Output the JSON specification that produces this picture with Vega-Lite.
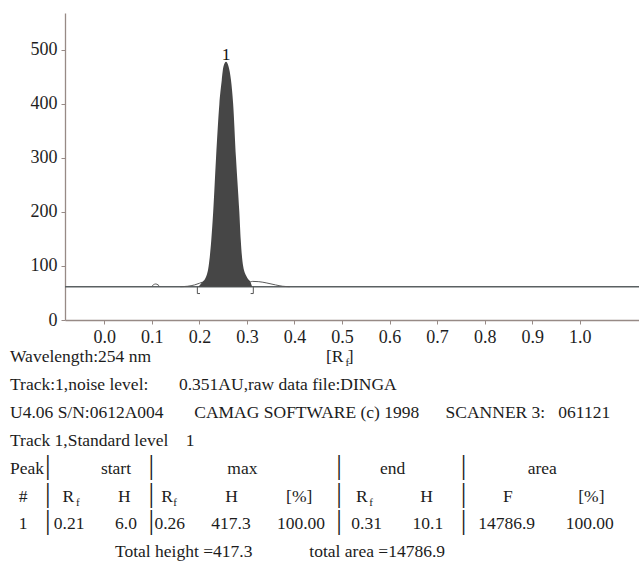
{
  "$schema": "https://vega.github.io/schema/vega-lite/v6.json",
  "padding": {"left": 10, "top": 13, "right": 0, "bottom": 0},
  "background": "white",
  "config": {
    "view": {"stroke": null},
    "font": "Liberation Serif",
    "axis": {"grid": false, "domainColor": "#978a86", "domainWidth": 1.3, "tickColor": "#978a86", "tickSize": 4, "labelPadding": 4,
      "labelFont": "Liberation Serif", "labelFontSize": 18, "labelColor": "#1e1e1e", "labelFlush": false, "labelOverlap": false}
  },
  "datasets": {
    "profile": [
      {"rf": 0.198, "h": 61.7}, {"rf": 0.205, "h": 69}, {"rf": 0.214, "h": 80},
      {"rf": 0.2195, "h": 100}, {"rf": 0.225, "h": 148}, {"rf": 0.229, "h": 200},
      {"rf": 0.235, "h": 300}, {"rf": 0.242, "h": 400}, {"rf": 0.247, "h": 444},
      {"rf": 0.2505, "h": 469}, {"rf": 0.256, "h": 478}, {"rf": 0.2615, "h": 469},
      {"rf": 0.2665, "h": 444}, {"rf": 0.271, "h": 400}, {"rf": 0.277, "h": 300},
      {"rf": 0.284, "h": 200}, {"rf": 0.287, "h": 148}, {"rf": 0.292, "h": 100},
      {"rf": 0.2995, "h": 80}, {"rf": 0.308, "h": 69}, {"rf": 0.311, "h": 61.7}
    ],
    "signal": [
      {"seg": "a", "rf": 0.099, "h": 61.7}, {"seg": "a", "rf": 0.103, "h": 65}, {"seg": "a", "rf": 0.108, "h": 66.7}, {"seg": "a", "rf": 0.113, "h": 65}, {"seg": "a", "rf": 0.117, "h": 61.7},
      {"seg": "b", "rf": 0.16, "h": 61.7}, {"seg": "b", "rf": 0.175, "h": 62.5}, {"seg": "b", "rf": 0.19, "h": 65}, {"seg": "b", "rf": 0.2, "h": 68}, {"seg": "b", "rf": 0.206, "h": 70},
      {"seg": "c", "rf": 0.306, "h": 70}, {"seg": "c", "rf": 0.312, "h": 71.5}, {"seg": "c", "rf": 0.325, "h": 71}, {"seg": "c", "rf": 0.342, "h": 68.5}, {"seg": "c", "rf": 0.36, "h": 65}, {"seg": "c", "rf": 0.375, "h": 62.5}, {"seg": "c", "rf": 0.39, "h": 61.7}
    ],
    "baseline": [{"h": 61.7}],
    "cuts": [
      {"rf": 0.1957, "hook": 0.2013, "top": 61.7, "bottom": 49},
      {"rf": 0.3134, "hook": 0.3078, "top": 61.7, "bottom": 49}
    ],
    "peaks": [{"rf": 0.256, "h": 478, "label": "1"}],
    "report": [
      {"line": 0, "text": "Wavelength:254 nm\u00a0\u00a0\u00a0\u00a0\u00a0\u00a0\u00a0\u00a0\u00a0\u00a0\u00a0\u00a0\u00a0\u00a0\u00a0\u00a0\u00a0\u00a0\u00a0\u00a0\u00a0\u00a0\u00a0\u00a0\u00a0\u00a0\u00a0\u00a0\u00a0\u00a0\u00a0\u00a0\u00a0\u00a0\u00a0\u00a0\u00a0\u00a0\u00a0\u00a0[R\u00a0]"},
      {"line": 1, "text": "Track:1,noise level:\u00a0\u00a0\u00a0\u00a0\u00a0\u00a0\u00a00.351AU,raw data file:DINGA"},
      {"line": 2, "text": "U4.06 S/N:0612A004\u00a0\u00a0\u00a0\u00a0\u00a0\u00a0\u00a0CAMAG SOFTWARE (c) 1998\u00a0\u00a0\u00a0\u00a0\u00a0\u00a0SCANNER 3:\u00a0\u00a0\u00a0061121"},
      {"line": 3, "text": "Track 1,Standard level\u00a0\u00a0\u00a0\u00a01"},
      {"line": 4, "text": "Peak\u00a0\u00a0\u00a0\u00a0\u00a0\u00a0\u00a0\u00a0\u00a0\u00a0\u00a0\u00a0\u00a0start\u00a0\u00a0\u00a0\u00a0\u00a0\u00a0\u00a0\u00a0\u00a0\u00a0\u00a0\u00a0\u00a0\u00a0\u00a0\u00a0\u00a0\u00a0\u00a0\u00a0\u00a0\u00a0max\u00a0\u00a0\u00a0\u00a0\u00a0\u00a0\u00a0\u00a0\u00a0\u00a0\u00a0\u00a0\u00a0\u00a0\u00a0\u00a0\u00a0\u00a0\u00a0\u00a0\u00a0\u00a0\u00a0\u00a0\u00a0\u00a0\u00a0\u00a0end\u00a0\u00a0\u00a0\u00a0\u00a0\u00a0\u00a0\u00a0\u00a0\u00a0\u00a0\u00a0\u00a0\u00a0\u00a0\u00a0\u00a0\u00a0\u00a0\u00a0\u00a0\u00a0\u00a0\u00a0\u00a0\u00a0\u00a0\u00a0area"},
      {"line": 5, "text": "\u200b\u00a0\u00a0#\u00a0\u00a0\u00a0\u00a0\u00a0\u00a0\u00a0\u00a0R\u00a0\u00a0\u00a0\u00a0\u00a0\u00a0\u00a0\u00a0\u00a0\u00a0H\u00a0\u00a0\u00a0\u00a0\u00a0\u00a0\u00a0R\u00a0\u00a0\u00a0\u00a0\u00a0\u00a0\u00a0\u00a0\u00a0\u00a0\u00a0\u00a0H\u00a0\u00a0\u00a0\u00a0\u00a0\u00a0\u00a0\u00a0\u00a0\u00a0\u00a0[%]\u00a0\u00a0\u00a0\u00a0\u00a0\u00a0\u00a0\u00a0\u00a0\u00a0R\u00a0\u00a0\u00a0\u00a0\u00a0\u00a0\u00a0\u00a0\u00a0\u00a0\u00a0\u00a0H\u00a0\u00a0\u00a0\u00a0\u00a0\u00a0\u00a0\u00a0\u00a0\u00a0\u00a0\u00a0\u00a0\u00a0\u00a0\u00a0F\u00a0\u00a0\u00a0\u00a0\u00a0\u00a0\u00a0\u00a0\u00a0\u00a0\u00a0\u00a0\u00a0\u00a0\u00a0[%]"},
      {"line": 6, "text": "\u200b\u00a0\u00a01\u00a0\u00a0\u00a0\u00a0\u00a0\u00a00.21\u00a0\u00a0\u00a0\u00a0\u00a0\u00a0\u00a06.0\u00a0\u00a0\u00a0\u00a00.26\u00a0\u00a0\u00a0\u00a0\u00a0\u00a0417.3\u00a0\u00a0\u00a0\u00a0\u00a0\u00a0100.00\u00a0\u00a0\u00a0\u00a0\u00a0\u00a00.31\u00a0\u00a0\u00a0\u00a0\u00a0\u00a0\u00a010.1\u00a0\u00a0\u00a0\u00a0\u00a0\u00a0\u00a0\u00a014786.9\u00a0\u00a0\u00a0\u00a0\u00a0\u00a0\u00a0100.00"},
      {"line": 7, "text": "\u200b\u00a0\u00a0\u00a0\u00a0\u00a0\u00a0\u00a0\u00a0\u00a0\u00a0\u00a0\u00a0\u00a0\u00a0\u00a0\u00a0\u00a0\u00a0\u00a0\u00a0\u00a0\u00a0\u00a0\u00a0Total height =417.3\u00a0\u00a0\u00a0\u00a0\u00a0\u00a0\u00a0\u00a0\u00a0\u00a0\u00a0\u00a0\u00a0total area =14786.9"}
    ],
    "subs": [
      {"line": 0, "text": "\u200b\u00a0\u00a0\u00a0\u00a0\u00a0\u00a0\u00a0\u00a0\u00a0\u00a0\u00a0\u00a0\u00a0\u00a0\u00a0\u00a0\u00a0\u00a0\u00a0\u00a0\u00a0\u00a0\u00a0\u00a0\u00a0\u00a0\u00a0\u00a0\u00a0\u00a0\u00a0\u00a0\u00a0\u00a0\u00a0\u00a0\u00a0\u00a0\u00a0\u00a0\u00a0\u00a0\u00a0\u00a0\u00a0\u00a0\u00a0\u00a0\u00a0\u00a0\u00a0\u00a0\u00a0\u00a0\u00a0\u00a0\u00a0\u00a0\u00a0\u00a0\u00a0\u00a0\u00a0\u00a0\u00a0\u00a0\u00a0\u00a0\u00a0\u00a0\u00a0\u00a0\u00a0\u00a0\u00a0\u00a0\u00a0\u00a0\u00a0\u00a0\u00a0\u00a0\u00a0\u00a0\u00a0\u00a0\u00a0\u00a0\u00a0\u00a0\u00a0\u00a0\u00a0\u00a0\u00a0\u00a0\u00a0\u00a0\u00a0\u00a0\u00a0\u00a0\u00a0\u00a0\u00a0\u00a0\u00a0\u00a0\u00a0\u00a0\u00a0\u00a0\u00a0\u00a0\u00a0\u00a0\u00a0\u00a0\u00a0\u00a0\u00a0\u00a0f"},
      {"line": 5, "text": "\u200b\u00a0\u00a0\u00a0\u00a0\u00a0\u00a0\u00a0\u00a0\u00a0\u00a0\u00a0\u00a0\u00a0\u00a0\u00a0\u00a0\u00a0\u00a0\u00a0\u00a0\u00a0\u00a0\u00a0\u00a0f\u00a0\u00a0\u00a0\u00a0\u00a0\u00a0\u00a0\u00a0\u00a0\u00a0\u00a0\u00a0\u00a0\u00a0\u00a0\u00a0\u00a0\u00a0\u00a0\u00a0\u00a0\u00a0\u00a0\u00a0\u00a0\u00a0\u00a0\u00a0\u00a0\u00a0\u00a0\u00a0\u00a0\u00a0f\u00a0\u00a0\u00a0\u00a0\u00a0\u00a0\u00a0\u00a0\u00a0\u00a0\u00a0\u00a0\u00a0\u00a0\u00a0\u00a0\u00a0\u00a0\u00a0\u00a0\u00a0\u00a0\u00a0\u00a0\u00a0\u00a0\u00a0\u00a0\u00a0\u00a0\u00a0\u00a0\u00a0\u00a0\u00a0\u00a0\u00a0\u00a0\u00a0\u00a0\u00a0\u00a0\u00a0\u00a0\u00a0\u00a0\u00a0\u00a0\u00a0\u00a0\u00a0\u00a0\u00a0\u00a0\u00a0\u00a0\u00a0\u00a0\u00a0\u00a0\u00a0\u00a0\u00a0\u00a0\u00a0\u00a0\u00a0\u00a0\u00a0\u00a0f"}
    ],
    "bars": [
      {"line": 4, "text": "\u200b\u00a0\u00a0\u00a0\u00a0\u00a0|\u00a0\u00a0\u00a0\u00a0\u00a0\u00a0\u00a0\u00a0\u00a0\u00a0\u00a0\u00a0\u00a0\u00a0|\u00a0\u00a0\u00a0\u00a0\u00a0\u00a0\u00a0\u00a0\u00a0\u00a0\u00a0\u00a0\u00a0\u00a0\u00a0\u00a0\u00a0\u00a0\u00a0\u00a0\u00a0\u00a0\u00a0\u00a0\u00a0\u00a0|\u00a0\u00a0\u00a0\u00a0\u00a0\u00a0\u00a0\u00a0\u00a0\u00a0\u00a0\u00a0\u00a0\u00a0\u00a0\u00a0\u00a0|"},
      {"line": 5, "text": "\u200b\u00a0\u00a0\u00a0\u00a0\u00a0|\u00a0\u00a0\u00a0\u00a0\u00a0\u00a0\u00a0\u00a0\u00a0\u00a0\u00a0\u00a0\u00a0\u00a0|\u00a0\u00a0\u00a0\u00a0\u00a0\u00a0\u00a0\u00a0\u00a0\u00a0\u00a0\u00a0\u00a0\u00a0\u00a0\u00a0\u00a0\u00a0\u00a0\u00a0\u00a0\u00a0\u00a0\u00a0\u00a0\u00a0|\u00a0\u00a0\u00a0\u00a0\u00a0\u00a0\u00a0\u00a0\u00a0\u00a0\u00a0\u00a0\u00a0\u00a0\u00a0\u00a0\u00a0|"},
      {"line": 6, "text": "\u200b\u00a0\u00a0\u00a0\u00a0\u00a0|\u00a0\u00a0\u00a0\u00a0\u00a0\u00a0\u00a0\u00a0\u00a0\u00a0\u00a0\u00a0\u00a0\u00a0|\u00a0\u00a0\u00a0\u00a0\u00a0\u00a0\u00a0\u00a0\u00a0\u00a0\u00a0\u00a0\u00a0\u00a0\u00a0\u00a0\u00a0\u00a0\u00a0\u00a0\u00a0\u00a0\u00a0\u00a0\u00a0\u00a0|\u00a0\u00a0\u00a0\u00a0\u00a0\u00a0\u00a0\u00a0\u00a0\u00a0\u00a0\u00a0\u00a0\u00a0\u00a0\u00a0\u00a0|"}
    ]
  },
  "columns": 1,
  "spacing": 2,
  "concat": [
    {
      "width": 574,
      "height": 307,
      "layer": [
        {
          "data": {"name": "baseline"},
          "mark": {"type": "rule", "color": "#5a6062", "strokeWidth": 1.4},
          "encoding": {
            "y": {"field": "h", "type": "quantitative", "scale": {"domain": [0, 568.5], "nice": false, "zero": false},
              "axis": {"values": [0, 100, 200, 300, 400, 500], "title": null, "minExtent": 55}}
          }
        },
        {
          "data": {"name": "profile"},
          "mark": {"type": "area", "color": "#464646", "interpolate": "monotone"},
          "encoding": {
            "x": {"field": "rf", "type": "quantitative", "scale": {"domain": [-0.0827, 1.1247], "nice": false, "zero": false},
              "axis": {"values": [0, 0.1, 0.2, 0.3, 0.4, 0.5, 0.6, 0.7, 0.8, 0.9, 1.0], "format": ".1f", "title": null}},
            "y": {"field": "h", "type": "quantitative", "scale": {"domain": [0, 568.5], "nice": false, "zero": false},
              "axis": {"values": [0, 100, 200, 300, 400, 500], "title": null, "minExtent": 55}},
            "y2": {"datum": 61.7}
          }
        },
        {
          "data": {"name": "signal"},
          "mark": {"type": "line", "color": "#5a5a5a", "strokeWidth": 1, "interpolate": "monotone"},
          "encoding": {
            "x": {"field": "rf", "type": "quantitative", "scale": {"domain": [-0.0827, 1.1247], "nice": false, "zero": false},
              "axis": {"values": [0, 0.1, 0.2, 0.3, 0.4, 0.5, 0.6, 0.7, 0.8, 0.9, 1.0], "format": ".1f", "title": null}},
            "y": {"field": "h", "type": "quantitative", "scale": {"domain": [0, 568.5], "nice": false, "zero": false},
              "axis": {"values": [0, 100, 200, 300, 400, 500], "title": null, "minExtent": 55}},
            "detail": {"field": "seg"}
          }
        },
        {
          "data": {"name": "cuts"},
          "mark": {"type": "rule", "color": "#555555", "strokeWidth": 1},
          "encoding": {
            "x": {"field": "rf", "type": "quantitative", "scale": {"domain": [-0.0827, 1.1247], "nice": false, "zero": false},
              "axis": {"values": [0, 0.1, 0.2, 0.3, 0.4, 0.5, 0.6, 0.7, 0.8, 0.9, 1.0], "format": ".1f", "title": null}},
            "y": {"field": "top", "type": "quantitative", "scale": {"domain": [0, 568.5], "nice": false, "zero": false},
              "axis": {"values": [0, 100, 200, 300, 400, 500], "title": null, "minExtent": 55}},
            "y2": {"field": "bottom"}
          }
        },
        {
          "data": {"name": "cuts"},
          "mark": {"type": "rule", "color": "#555555", "strokeWidth": 1},
          "encoding": {
            "x": {"field": "rf", "type": "quantitative", "scale": {"domain": [-0.0827, 1.1247], "nice": false, "zero": false},
              "axis": {"values": [0, 0.1, 0.2, 0.3, 0.4, 0.5, 0.6, 0.7, 0.8, 0.9, 1.0], "format": ".1f", "title": null}},
            "x2": {"field": "hook"},
            "y": {"field": "bottom", "type": "quantitative", "scale": {"domain": [0, 568.5], "nice": false, "zero": false},
              "axis": {"values": [0, 100, 200, 300, 400, 500], "title": null, "minExtent": 55}}
          }
        },
        {
          "data": {"name": "peaks"},
          "mark": {"type": "text", "baseline": "alphabetic", "dy": -2, "fontSize": 17.5, "font": "Liberation Serif", "color": "#111111"},
          "encoding": {
            "x": {"field": "rf", "type": "quantitative", "scale": {"domain": [-0.0827, 1.1247], "nice": false, "zero": false},
              "axis": {"values": [0, 0.1, 0.2, 0.3, 0.4, 0.5, 0.6, 0.7, 0.8, 0.9, 1.0], "format": ".1f", "title": null}},
            "y": {"field": "h", "type": "quantitative", "scale": {"domain": [0, 568.5], "nice": false, "zero": false},
              "axis": {"values": [0, 100, 200, 300, 400, 500], "title": null, "minExtent": 55}},
            "text": {"field": "label"}
          }
        }
      ]
    },
    {
      "width": 574,
      "height": 195.3,
      "layer": [
        {
          "data": {"name": "report"},
          "mark": {"type": "text", "align": "left", "baseline": "alphabetic", "dx": -55, "fontSize": 17.5, "font": "Liberation Serif", "color": "#1c1c1c"},
          "encoding": {
            "x": {"datum": 0, "type": "quantitative", "scale": {"domain": [0, 1]}, "axis": null},
            "y": {"field": "line", "type": "ordinal", "scale": {"type": "point", "padding": 0, "domain": [0, 1, 2, 3, 4, 5, 6, 7]}, "axis": null},
            "text": {"field": "text"}
          }
        },
        {
          "data": {"name": "subs"},
          "mark": {"type": "text", "align": "left", "baseline": "alphabetic", "dx": -55, "dy": 4, "fontSize": 11, "font": "Liberation Serif", "color": "#1c1c1c"},
          "encoding": {
            "x": {"datum": 0, "type": "quantitative", "scale": {"domain": [0, 1]}, "axis": null},
            "y": {"field": "line", "type": "ordinal", "scale": {"type": "point", "padding": 0, "domain": [0, 1, 2, 3, 4, 5, 6, 7]}, "axis": null},
            "text": {"field": "text"}
          }
        },
        {
          "data": {"name": "bars"},
          "mark": {"type": "text", "align": "left", "baseline": "alphabetic", "dx": -55, "fontSize": 28, "font": "Liberation Serif", "color": "#1c1c1c"},
          "encoding": {
            "x": {"datum": 0, "type": "quantitative", "scale": {"domain": [0, 1]}, "axis": null},
            "y": {"field": "line", "type": "ordinal", "scale": {"type": "point", "padding": 0, "domain": [0, 1, 2, 3, 4, 5, 6, 7]}, "axis": null},
            "text": {"field": "text"}
          }
        }
      ]
    }
  ]
}
